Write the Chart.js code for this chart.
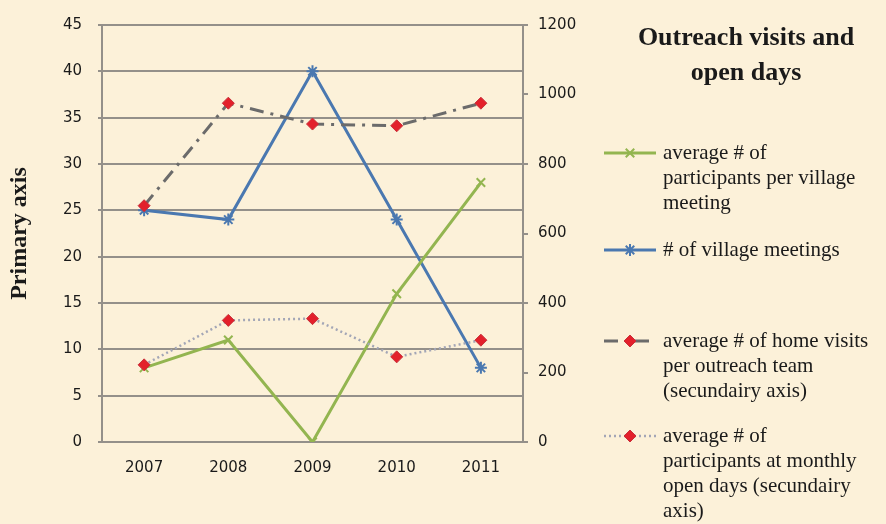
<!DOCTYPE html>
<html>
<head>
<meta charset="utf-8">
<script src="https://cdn.jsdelivr.net/npm/chart.js@4/dist/chart.umd.min.js"></script>
<style>
  html, body { margin: 0; padding: 0; background: #fcf1d9; }
  #wrap { width: 886px; height: 524px; position: relative; }
</style>
</head>
<body>
<div id="wrap"><canvas id="c" width="886" height="524"></canvas></div>
<script>
// ---- data ----
const years = ['2007', '2008', '2009', '2010', '2011'];
const participantsPerMeeting = [8, 11, 0, 16, 28];          // primary axis
const villageMeetings = [25, 24, 40, 24, 8];                 // primary axis
const homeVisitsPerTeam = [680, 975, 915, 910, 975];         // secondary axis
const openDayParticipants = [222, 350, 355, 245, 293];       // secondary axis

const seriesLabels = [
  'average # of participants per village meeting',
  '# of village meetings',
  'average # of home visits per outreach team (secundairy axis)',
  'average # of participants at monthly open days (secundairy axis)'
];
const legendLines = [
  ['average # of', 'participants per village', 'meeting'],
  ['# of village meetings'],
  ['average # of home visits', 'per outreach team', '(secundairy axis)'],
  ['average # of', 'participants at monthly', 'open days (secundairy', 'axis)']
];
const chartTitleLines = ['Outreach visits and', 'open days'];
const primaryAxisTitle = 'Primary axis';

// ---- styles ----
const BG = '#fcf1d9';
const GRID = '#94908a';
const GREEN = '#93b550';
const BLUE = '#4a78b0';
const DARK = '#6b6b6b';
const DOTC = '#a3a6b6';
const RED = '#e3202b';

const bgPlugin = {
  id: 'bg',
  beforeDraw(chart) {
    const ctx = chart.ctx;
    ctx.save();
    ctx.fillStyle = BG;
    ctx.fillRect(0, 0, chart.width, chart.height);
    ctx.restore();
  }
};

const sideLegend = {
  id: 'sideLegend',
  afterDraw(chart) {
    const ctx = chart.ctx;
    ctx.save();
    ctx.fillStyle = '#1a1a1a';
    ctx.textBaseline = 'middle';
    ctx.textAlign = 'center';
    ctx.font = 'bold 26px "Liberation Serif", serif';
    const tcx = 746;
    chartTitleLines.forEach((t, i) => ctx.fillText(t, tcx, 38 + i * 35));

    const starts = [153, 250, 341, 436];
    const lh = 25;
    const x0 = 604, x1 = 656, tx = 663;
    chart.data.datasets.forEach((ds, i) => {
      const y = starts[i];
      ctx.save();
      ctx.strokeStyle = ds.borderColor;
      ctx.lineWidth = ds.borderWidth;
      ctx.setLineDash(ds.borderDash || []);
      ctx.beginPath();
      ctx.moveTo(x0, y);
      ctx.lineTo(x1, y);
      ctx.stroke();
      ctx.restore();
      ctx.save();
      ctx.fillStyle = ds.pointBackgroundColor;
      ctx.strokeStyle = ds.pointBorderColor;
      ctx.lineWidth = ds.pointBorderWidth;
      Chart.helpers.drawPoint(ctx, {
        pointStyle: ds.pointStyle,
        radius: ds.pointRadius,
        borderWidth: ds.pointBorderWidth,
        rotation: 0
      }, (x0 + x1) / 2, y);
      ctx.restore();

      ctx.fillStyle = '#1a1a1a';
      ctx.textAlign = 'left';
      ctx.font = '21px "Liberation Serif", serif';
      legendLines[i].forEach((t, j) => ctx.fillText(t, tx, y + j * lh));
    });
    ctx.restore();
  }
};

const tickFont = { family: '"DejaVu Sans", sans-serif', size: 15 };

new Chart(document.getElementById('c'), {
  type: 'line',
  data: {
    labels: years,
    datasets: [
      {
        label: seriesLabels[0],
        data: participantsPerMeeting,
        yAxisID: 'y',
        borderColor: GREEN,
        borderWidth: 3,
        pointStyle: 'crossRot',
        pointRadius: 6,
        pointBorderWidth: 2,
        pointBackgroundColor: GREEN,
        pointBorderColor: GREEN,
        tension: 0,
        order: 3
      },
      {
        label: seriesLabels[1],
        data: villageMeetings,
        yAxisID: 'y',
        borderColor: BLUE,
        borderWidth: 3,
        pointStyle: 'star',
        pointRadius: 6,
        pointBorderWidth: 2,
        pointBackgroundColor: BLUE,
        pointBorderColor: BLUE,
        tension: 0,
        order: 4
      },
      {
        label: seriesLabels[2],
        data: homeVisitsPerTeam,
        yAxisID: 'y2',
        borderColor: DARK,
        borderWidth: 3,
        borderDash: [14, 7, 3, 7],
        pointStyle: 'rectRot',
        pointRadius: 6,
        pointBorderWidth: 1,
        pointBackgroundColor: RED,
        pointBorderColor: '#c8303a',
        tension: 0,
        order: 1
      },
      {
        label: seriesLabels[3],
        data: openDayParticipants,
        yAxisID: 'y2',
        borderColor: DOTC,
        borderWidth: 2.5,
        borderDash: [2, 3],
        pointStyle: 'rectRot',
        pointRadius: 6,
        pointBorderWidth: 1,
        pointBackgroundColor: RED,
        pointBorderColor: '#c8303a',
        tension: 0,
        order: 2
      }
    ]
  },
  options: {
    responsive: false,
    animation: false,
    events: [],
    layout: { padding: { left: 0, right: 306, top: 19, bottom: 0 } },
    plugins: {
      legend: { display: false },
      title: { display: false },
      tooltip: { enabled: false }
    },
    scales: {
      x: {
        offset: true,
        grid: { display: false, drawTicks: false },
        border: { display: false },
        ticks: { font: tickFont, color: '#1a1a1a', padding: 17, maxRotation: 0 },
        afterFit(s) { s.height = 82; }
      },
      y: {
        position: 'left',
        min: 0, max: 45,
        ticks: { stepSize: 5, font: tickFont, color: '#1a1a1a', padding: 16,
                 callback: v => String(v) },
        grid: { color: GRID, lineWidth: 2, tickLength: 4 },
        border: { display: true, color: GRID, width: 2 },
        title: {
          display: true,
          text: primaryAxisTitle,
          color: '#1a1a1a',
          font: { family: '"Liberation Serif", serif', size: 24, weight: 'bold', lineHeight: 1 },
          padding: { top: 8, bottom: 0 }
        },
        afterFit(s) { s.width = 102; }
      },
      y2: {
        position: 'right',
        min: 0, max: 1200,
        ticks: { stepSize: 200, font: tickFont, color: '#1a1a1a', padding: 10,
                 callback: v => String(v) },
        grid: { drawOnChartArea: false, color: GRID, lineWidth: 2, tickLength: 5 },
        border: { display: true, color: GRID, width: 2 },
        afterFit(s) { s.width = 57; }
      }
    }
  },
  plugins: [bgPlugin, sideLegend]
});
</script>
</body>
</html>
